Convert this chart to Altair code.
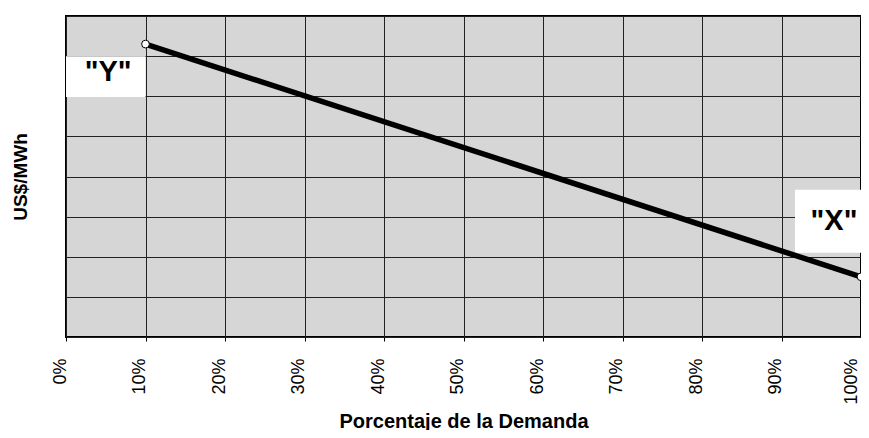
import altair as alt
import pandas as pd

# Data
demand_pct = [10, 100]
price = [7.3, 1.5]
label_text = ['"Y"', '"X"']
label_x = [5.3, 96.6]
label_y = [6.6, 2.9]
box_x1 = [0, 91.7]
box_x2 = [10, 100]
box_y1 = [5.98, 2.1]
box_y2 = [7.0, 3.67]

x_ticks = list(range(0, 101, 10))
y_ticks = list(range(0, 9))

line_df = pd.DataFrame({"x": demand_pct, "y": price})
lab_df = pd.DataFrame({"t": label_text, "x": label_x, "y": label_y,
                       "x1": box_x1, "x2": box_x2, "y1": box_y1, "y2": box_y2})

FONT = "Liberation Sans"

xs = alt.Scale(domain=[0, 100], nice=False, zero=False)
ys = alt.Scale(domain=[0, 8], nice=False, zero=False)

x_axis = alt.Axis(values=x_ticks, labelExpr="datum.value + '%'", labelAngle=-90,
                  labelFont=FONT, labelFontSize=18, labelColor="black",
                  labelPadding=17, labelBaseline="middle", labelAlign="right",
                  labelOffset={"condition": {"test": "datum.value == 100", "value": -10},
                               "value": -6},
                  labelFlush=False, labelOverlap=False,
                  title="Porcentaje de la Demanda", titleFont=FONT, titleFontSize=20,
                  titleFontWeight="bold", titleColor="black",
                  titleY=90, titleBaseline="alphabetic",
                  grid=True, gridColor="#222222", gridWidth=1,
                  tickColor="black", tickSize=4, domain=False)
y_axis = alt.Axis(values=y_ticks, labels=False, ticks=False, domain=False,
                  title="US$/MWh", titleFont=FONT, titleFontSize=19,
                  titleFontWeight="bold", titleColor="black", titlePadding=36,
                  grid=True, gridColor="#222222", gridWidth=1)

base_grid = alt.Chart(line_df).mark_line(opacity=0).encode(
    x=alt.X("x:Q", scale=xs, axis=x_axis),
    y=alt.Y("y:Q", scale=ys, axis=y_axis),
)

boxes = alt.Chart(lab_df).mark_rect(color="white").encode(
    x=alt.X("x1:Q", scale=xs), x2="x2:Q",
    y=alt.Y("y1:Q", scale=ys), y2="y2:Q",
)

line = alt.Chart(line_df).mark_line(color="black", strokeWidth=5.5).encode(
    x=alt.X("x:Q", scale=xs), y=alt.Y("y:Q", scale=ys)
)
points = alt.Chart(line_df).mark_point(filled=True, fill="white", stroke="black",
                                        strokeWidth=1, size=60, opacity=1).encode(
    x=alt.X("x:Q", scale=xs), y=alt.Y("y:Q", scale=ys)
)
texts = alt.Chart(lab_df).mark_text(font=FONT, fontSize=29, fontWeight="bold",
                                    color="black", baseline="middle").encode(
    x=alt.X("x:Q", scale=xs), y=alt.Y("y:Q", scale=ys), text="t:N"
)

chart = alt.layer(base_grid, boxes, line, points, texts).properties(
    width=795, height=321,
    autosize=alt.AutoSizeParams(type="none"),
    padding={"left": 58, "top": 8, "right": 0, "bottom": 93},
    background="white",
).configure_view(
    fill="#d6d6d6", stroke="black", strokeWidth=2
)

chart.save("out.html", embed_options={"renderer": "svg", "actions": False})
